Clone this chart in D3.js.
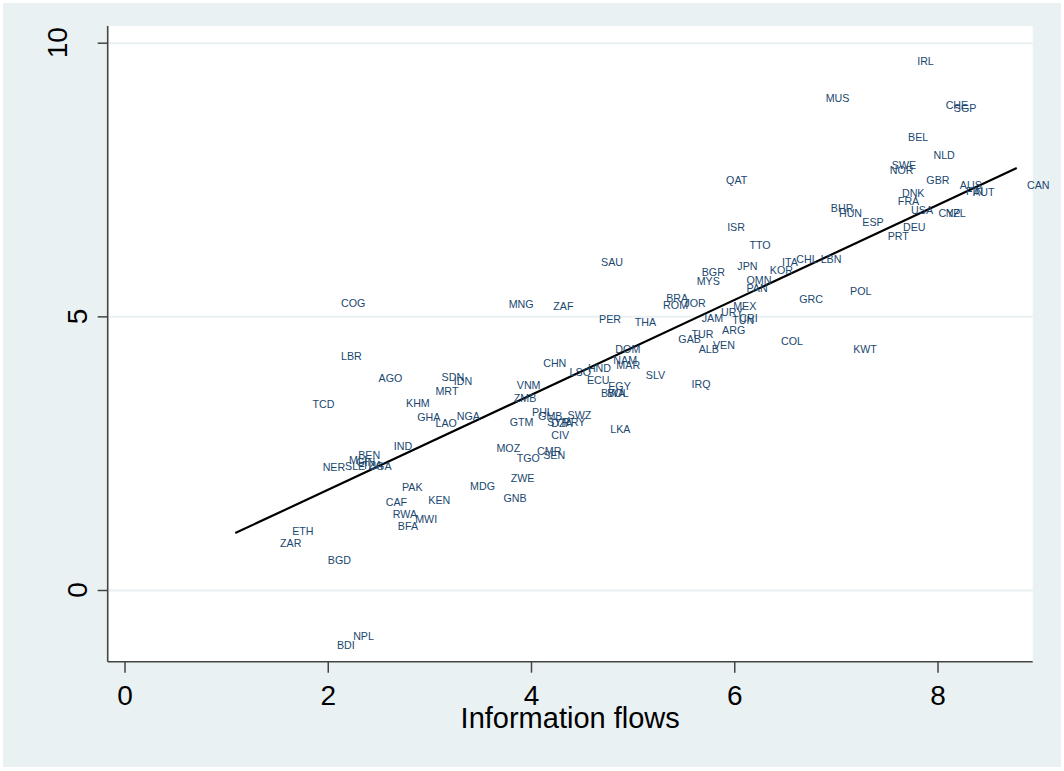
<!DOCTYPE html>
<html>
<head>
<meta charset="utf-8">
<script src="https://cdn.jsdelivr.net/npm/d3@7"></script>
<style>
  body { margin: 0; background: #ffffff; }
  text { font-family: "Liberation Sans", Arial, sans-serif; }
</style>
</head>
<body>
<div id="chart"></div>
<script>
// Country codes, information flows (x) and outcome (y)
const codes = [
  "COG","LBR","AGO","SDN","IDN","MRT","TCD","KHM","GHA","LAO","NGA","IND","BEN","NER","SLE","MLI","GIN","TZA","UGA",
  "PAK","CAF","KEN","MDG","RWA","MWI","BFA","ETH","ZAR","BGD","NPL","BDI",
  "MNG","ZAF","BRA","ROM","JOR","PER","THA","GAB","DOM","CHN","NAM","MAR","LSO","HND","ECU","EGY","BWA","BOL",
  "SLV","IRQ","VNM","ZMB","PHL","GMB","SWZ","GTM","SYR","DZA","PRY","CIV","LKA","MOZ","TGO","CMR","SEN","ZWE","GNB",
  "ISR","TTO","SAU","QAT","BGR","JPN","KOR","ITA","CHL","LBN","MYS","OMN","PAN","GRC","MEX","URY","TUN","CRI",
  "JAM","TUR","ARG","VEN","ALB","COL","POL","KWT",
  "IRL","MUS","CHE","SGP","BEL","NLD","SWE","NOR","GBR","AUS","FIN","AUT","DNK","FRA","CAN","BHR","HUN","USA",
  "ESP","CYP","NZL","DEU","PRT"
];
const infoFlows = [
  2.13,2.13,2.50,3.12,3.24,3.06,1.85,2.77,2.88,3.06,3.27,2.65,2.30,1.95,2.17,2.21,2.28,2.34,2.40,
  2.73,2.57,2.99,3.40,2.64,2.86,2.69,1.65,1.53,2.00,2.25,2.09,
  3.78,4.22,5.33,5.30,5.51,4.67,5.02,5.45,4.83,4.12,4.81,4.84,4.38,4.56,4.55,4.76,4.69,4.75,
  5.13,5.58,3.86,3.83,4.01,4.07,4.36,3.79,4.16,4.20,4.32,4.20,4.78,3.66,3.86,4.06,4.12,3.80,3.73,
  5.93,6.15,4.69,5.92,5.68,6.03,6.35,6.47,6.61,6.85,5.63,6.12,6.12,6.64,5.99,5.87,5.98,6.05,
  5.68,5.58,5.88,5.79,5.65,6.46,7.14,7.17,
  7.80,6.90,8.08,8.16,7.71,7.96,7.55,7.53,7.89,8.22,8.28,8.35,7.65,7.61,8.88,6.95,7.03,7.74,
  7.26,8.01,8.08,7.66,7.51
];
const outcome = [
  5.24,4.28,3.87,3.89,3.82,3.64,3.40,3.42,3.15,3.05,3.18,2.62,2.47,2.25,2.26,2.37,2.34,2.28,2.26,
  1.88,1.60,1.64,1.90,1.39,1.29,1.17,1.08,0.85,0.55,-0.84,-1.01,
  5.23,5.18,5.33,5.20,5.24,4.95,4.89,4.58,4.40,4.15,4.19,4.11,3.97,4.05,3.84,3.73,3.59,3.59,
  3.93,3.76,3.74,3.50,3.24,3.17,3.20,3.06,3.06,3.04,3.06,2.83,2.94,2.59,2.41,2.53,2.46,2.04,1.68,
  6.62,6.30,5.98,7.49,5.81,5.92,5.85,5.99,6.05,6.05,5.65,5.66,5.51,5.32,5.19,5.07,4.93,4.96,
  4.96,4.67,4.74,4.48,4.39,4.54,5.45,4.40,
  9.67,8.98,8.86,8.81,8.27,7.94,7.76,7.67,7.49,7.40,7.29,7.27,7.25,7.11,7.39,6.97,6.88,6.94,
  6.72,6.88,6.88,6.63,6.46
];
// Linear fit line endpoints
const fitX = [1.09, 8.78];
const fitY = [1.04, 7.71];
const xTicks = [0, 2, 4, 6, 8];
const yTicks = [0, 5, 10];
const xTitle = "Information flows";

const width = 1064, height = 771;
const plot = { left: 107.7, right: 1032.7, top: 26, bottom: 661.7 };

const svg = d3.select("#chart").append("svg")
    .attr("width", width)
    .attr("height", height);

// Graph region background
svg.append("rect")
    .attr("x", 3).attr("y", 3)
    .attr("width", 1058).attr("height", 764)
    .attr("fill", "#eaf1f3");

// Plot region
svg.append("rect")
    .attr("x", plot.left).attr("y", plot.top)
    .attr("width", plot.right - plot.left)
    .attr("height", plot.bottom - plot.top)
    .attr("fill", "#ffffff");

const x = d3.scaleLinear().domain([0, 8]).range([124.5, 937.5]);
const y = d3.scaleLinear().domain([0, 10]).range([590, 42.7]);

// Grid lines
svg.append("g")
    .attr("transform", `translate(${plot.left},0)`)
    .call(d3.axisLeft(y).tickValues(yTicks).tickSize(-(plot.right - plot.left)).tickFormat(""))
    .call(g => g.select(".domain").remove())
    .selectAll("line")
    .attr("stroke", "#e8f0f2")
    .attr("stroke-width", 2);

// Fitted line
const fit = fitX.map((v, i) => ({ x: v, y: fitY[i] }));
svg.append("path")
    .datum(fit)
    .attr("fill", "none")
    .attr("stroke", "#000000")
    .attr("stroke-width", 2.2)
    .attr("d", d3.line().x(d => x(d.x)).y(d => y(d.y)));

// Country labels
const data = codes.map((c, i) => ({ code: c, x: infoFlows[i], y: outcome[i] }));
svg.append("g")
    .selectAll("text")
    .data(data)
    .join("text")
    .attr("x", d => x(d.x))
    .attr("y", d => y(d.y))
    .attr("dy", "0.35em")
    .attr("font-size", 10.7)
    .attr("fill", "#1a476f")
    .text(d => d.code);

// Axes
const xAxis = svg.append("g")
    .attr("transform", `translate(0,${plot.bottom})`)
    .call(d3.axisBottom(x).tickValues(xTicks).tickSize(11).tickPadding(12).tickFormat(d3.format("d")));
xAxis.select(".domain").remove();
xAxis.selectAll("line").attr("stroke", "#444").attr("stroke-width", 1.5);
xAxis.selectAll("text")
    .attr("font-size", 28)
    .attr("fill", "#000");

const yAxis = svg.append("g")
    .attr("transform", `translate(${plot.left},0)`)
    .call(d3.axisLeft(y).tickValues(yTicks).tickSize(10).tickFormat(""));
yAxis.select(".domain").remove();
yAxis.selectAll("line").attr("stroke", "#444").attr("stroke-width", 1.5);

// Rotated y tick labels
svg.append("g")
    .selectAll("text")
    .data(yTicks)
    .join("text")
    .attr("transform", d => `translate(${87 - (String(d).length - 1) * 20},${y(d)}) rotate(-90)`)
    .attr("text-anchor", "middle")
    .attr("font-size", 28)
    .attr("fill", "#000")
    .text(d => d);

// Axis lines
svg.append("line")
    .attr("x1", plot.left).attr("x2", plot.left)
    .attr("y1", plot.top).attr("y2", plot.bottom)
    .attr("stroke", "#444").attr("stroke-width", 1.6);
svg.append("line")
    .attr("x1", plot.left).attr("x2", plot.right)
    .attr("y1", plot.bottom).attr("y2", plot.bottom)
    .attr("stroke", "#444").attr("stroke-width", 1.6);

// Axis title
svg.append("text")
    .attr("x", (plot.left + plot.right) / 2)
    .attr("y", 728)
    .attr("text-anchor", "middle")
    .attr("font-size", 29)
    .attr("fill", "#000")
    .text(xTitle);
</script>
</body>
</html>
